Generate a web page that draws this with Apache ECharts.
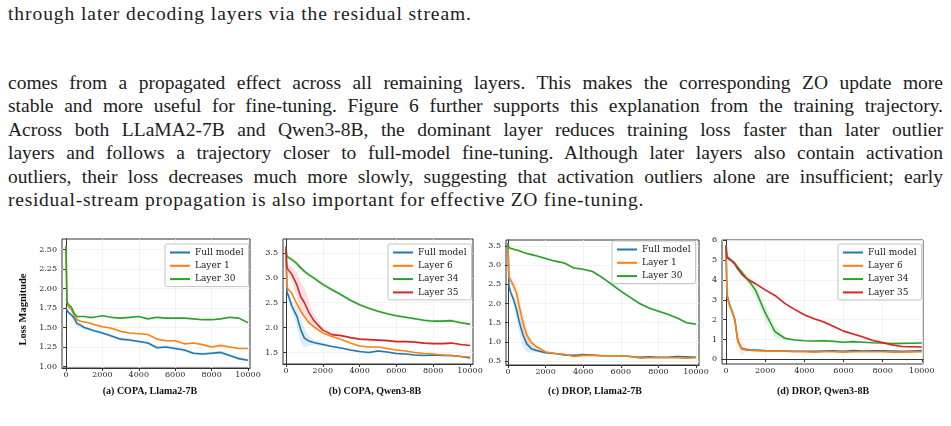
<!DOCTYPE html>
<html>
<head>
<meta charset="utf-8">
<script src="https://cdn.jsdelivr.net/npm/echarts@6/dist/echarts.min.js"></script>
<style>
  html, body { margin: 0; padding: 0; background: #fff; }
  body { width: 951px; height: 426px; position: relative; overflow: hidden; }
  .txt {
    position: absolute;
    left: 8px;
    width: 935px;
    font-family: "Liberation Serif", serif;
    font-size: 19.5px;
    line-height: 23.4px;
    color: #1c1c1c;
    white-space: nowrap;
  }
  .full { text-align: justify; text-align-last: justify; white-space: normal; }
  #chart { position: absolute; left: 0; top: 0; width: 951px; height: 426px; }
</style>
</head>
<body>
<div class="txt" style="top:2px; letter-spacing:0.93px">through later decoding layers via the residual stream.</div>
<div class="txt full" style="top:71px">comes from a propagated effect across all remaining layers. This makes the corresponding ZO update more</div>
<div class="txt full" style="top:94.4px">stable and more useful for fine-tuning. Figure 6 further supports this explanation from the training trajectory.</div>
<div class="txt full" style="top:117.8px">Across both LLaMA2-7B and Qwen3-8B, the dominant layer reduces training loss faster than later outlier</div>
<div class="txt full" style="top:141.2px">layers and follows a trajectory closer to full-model fine-tuning. Although later layers also contain activation</div>
<div class="txt full" style="top:164.6px">outliers, their loss decreases much more slowly, suggesting that activation outliers alone are insufficient; early</div>
<div class="txt" style="top:188px; letter-spacing:0.74px">residual-stream propagation is also important for effective ZO fine-tuning.</div>
<div id="chart"></div>
<script>
// training steps shared by every panel
const steps = [0, 50, 150, 300, 450, 600, 800, 1000, 1250, 1500, 2000, 2500, 3000, 3500, 4000, 4500, 5000, 5500, 6000, 6500, 7000, 7500, 8000, 8500, 9000, 9500, 10000];
const xTicks = [0, 2000, 4000, 6000, 8000, 10000];

// (a) COPA, Llama2-7B
const copaLlamaFull = [1.76, 1.72, 1.69, 1.66, 1.62, 1.55, 1.53, 1.50, 1.48, 1.46, 1.43, 1.39, 1.35, 1.34, 1.32, 1.30, 1.24, 1.25, 1.23, 1.21, 1.17, 1.16, 1.17, 1.18, 1.14, 1.10, 1.08];
const copaLlamaL1 = [2.54, 1.82, 1.76, 1.73, 1.66, 1.60, 1.58, 1.57, 1.56, 1.54, 1.51, 1.49, 1.45, 1.43, 1.42, 1.41, 1.35, 1.33, 1.33, 1.29, 1.30, 1.28, 1.25, 1.27, 1.25, 1.23, 1.23];
const copaLlamaL30 = [2.55, 1.83, 1.79, 1.76, 1.68, 1.64, 1.64, 1.64, 1.63, 1.63, 1.65, 1.63, 1.62, 1.63, 1.64, 1.61, 1.63, 1.62, 1.62, 1.62, 1.61, 1.60, 1.60, 1.61, 1.63, 1.62, 1.56];
const copaLlamaTicks = [1.0, 1.25, 1.5, 1.75, 2.0, 2.25, 2.5];
// half-width of the shaded spread around a curve
const copaLlamaFullSpread = [0, 0.02, 0.02, 0.03, 0.04, 0.04, 0.03, 0.02, 0.02, 0.02, 0.02, 0.02, 0.02, 0.02, 0.02, 0.02, 0.02, 0.02, 0.02, 0.02, 0.02, 0.02, 0.02, 0.02, 0.02, 0.02, 0.02];

// (b) COPA, Qwen3-8B
const copaQwenFull = [3.63, 2.72, 2.62, 2.45, 2.33, 2.22, 1.96, 1.79, 1.73, 1.70, 1.66, 1.62, 1.59, 1.55, 1.52, 1.50, 1.53, 1.51, 1.48, 1.47, 1.45, 1.44, 1.45, 1.44, 1.44, 1.42, 1.39];
const copaQwenL6 = [3.60, 2.80, 2.76, 2.70, 2.58, 2.47, 2.33, 2.22, 2.10, 2.02, 1.89, 1.82, 1.76, 1.69, 1.63, 1.61, 1.61, 1.58, 1.55, 1.53, 1.50, 1.48, 1.47, 1.45, 1.44, 1.42, 1.41];
const copaQwenL34 = [3.62, 3.43, 3.40, 3.37, 3.33, 3.28, 3.20, 3.13, 3.06, 3.00, 2.87, 2.76, 2.66, 2.55, 2.46, 2.39, 2.33, 2.28, 2.24, 2.21, 2.18, 2.15, 2.13, 2.13, 2.14, 2.10, 2.07];
const copaQwenL35 = [3.62, 3.20, 3.15, 3.08, 2.97, 2.85, 2.62, 2.50, 2.30, 2.15, 1.95, 1.86, 1.84, 1.80, 1.77, 1.76, 1.75, 1.74, 1.72, 1.72, 1.71, 1.69, 1.68, 1.68, 1.69, 1.66, 1.64];
const copaQwenTicks = [1.5, 2.0, 2.5, 3.0, 3.5];
const copaQwenFullSpread = [0, 0.05, 0.08, 0.1, 0.15, 0.2, 0.25, 0.2, 0.09, 0.05, 0.03, 0.02, 0.02, 0.02, 0.02, 0.02, 0.02, 0.02, 0.02, 0.02, 0.02, 0.02, 0.02, 0.02, 0.02, 0.02, 0.02];
const copaQwenL34Spread = [0, 0.03, 0.04, 0.05, 0.05, 0.05, 0.05, 0.05, 0.05, 0.05, 0.05, 0.04, 0.03, 0.03, 0.03, 0.03, 0.03, 0.03, 0.03, 0.03, 0.03, 0.03, 0.03, 0.03, 0.03, 0.03, 0.03];
const copaQwenL35Spread = [0, 0.08, 0.1, 0.15, 0.2, 0.25, 0.3, 0.3, 0.22, 0.13, 0.06, 0.03, 0.02, 0.02, 0.02, 0.02, 0.02, 0.02, 0.02, 0.02, 0.02, 0.02, 0.02, 0.02, 0.02, 0.02, 0.02];

// (c) DROP, Llama2-7B
const dropLlamaFull = [3.58, 2.45, 2.28, 2.10, 1.85, 1.52, 1.18, 0.95, 0.82, 0.78, 0.72, 0.70, 0.66, 0.65, 0.67, 0.66, 0.64, 0.64, 0.64, 0.62, 0.60, 0.61, 0.60, 0.60, 0.62, 0.61, 0.60];
const dropLlamaL1 = [3.50, 2.68, 2.60, 2.45, 2.28, 1.92, 1.50, 1.18, 0.98, 0.88, 0.74, 0.70, 0.68, 0.62, 0.65, 0.65, 0.64, 0.64, 0.64, 0.62, 0.58, 0.59, 0.59, 0.59, 0.59, 0.58, 0.59];
const dropLlamaL30 = [3.55, 3.45, 3.43, 3.41, 3.39, 3.37, 3.33, 3.30, 3.27, 3.24, 3.17, 3.10, 3.05, 2.92, 2.89, 2.83, 2.68, 2.50, 2.32, 2.16, 2.00, 1.88, 1.80, 1.72, 1.62, 1.50, 1.46];
const dropLlamaTicks = [0.5, 1.0, 1.5, 2.0, 2.5, 3.0, 3.5];
const dropLlamaFullSpread = [0, 0.05, 0.08, 0.12, 0.2, 0.28, 0.3, 0.22, 0.1, 0.05, 0.03, 0.02, 0.02, 0.02, 0.02, 0.02, 0.02, 0.02, 0.02, 0.02, 0.02, 0.02, 0.02, 0.02, 0.02, 0.02, 0.02];
const dropLlamaL1Spread = [0, 0.08, 0.12, 0.15, 0.2, 0.25, 0.25, 0.2, 0.1, 0.05, 0.03, 0.02, 0.02, 0.02, 0.02, 0.02, 0.02, 0.02, 0.02, 0.02, 0.02, 0.02, 0.02, 0.02, 0.02, 0.02, 0.02];
const dropLlamaL30Spread = [0, 0.03, 0.03, 0.03, 0.03, 0.03, 0.03, 0.03, 0.03, 0.03, 0.03, 0.03, 0.03, 0.03, 0.03, 0.03, 0.04, 0.05, 0.05, 0.04, 0.04, 0.03, 0.03, 0.03, 0.03, 0.03, 0.03];

// (d) DROP, Qwen3-8B
const dropQwenFull = [5.70, 3.30, 2.85, 2.45, 2.00, 0.95, 0.55, 0.50, 0.47, 0.46, 0.44, 0.43, 0.42, 0.40, 0.40, 0.40, 0.42, 0.43, 0.40, 0.44, 0.42, 0.43, 0.43, 0.42, 0.40, 0.42, 0.44];
const dropQwenL6 = [5.70, 3.20, 2.80, 2.42, 2.00, 0.92, 0.52, 0.47, 0.44, 0.43, 0.41, 0.41, 0.40, 0.38, 0.38, 0.36, 0.38, 0.38, 0.36, 0.38, 0.38, 0.38, 0.38, 0.36, 0.36, 0.37, 0.38];
const dropQwenL34 = [5.75, 5.20, 5.12, 4.98, 4.85, 4.65, 4.40, 4.15, 3.85, 3.50, 2.35, 1.40, 1.06, 0.97, 0.93, 0.92, 0.93, 0.90, 0.86, 0.89, 0.86, 0.83, 0.82, 0.79, 0.80, 0.81, 0.82];
const dropQwenL35 = [5.75, 5.12, 5.05, 4.95, 4.80, 4.55, 4.30, 4.12, 3.95, 3.82, 3.50, 3.22, 2.82, 2.52, 2.25, 2.05, 1.88, 1.65, 1.42, 1.27, 1.12, 0.95, 0.84, 0.72, 0.64, 0.63, 0.62];
const dropQwenTicks = [0, 1, 2, 3, 4, 5, 6];
const dropQwenFullSpread = [0, 0.1, 0.15, 0.2, 0.3, 0.45, 0.4, 0.12, 0.06, 0.04, 0.04, 0.04, 0.04, 0.04, 0.04, 0.04, 0.04, 0.04, 0.04, 0.04, 0.04, 0.04, 0.04, 0.04, 0.04, 0.04, 0.04];
const dropQwenL34Spread = [0, 0.05, 0.06, 0.08, 0.1, 0.12, 0.15, 0.2, 0.28, 0.35, 0.4, 0.3, 0.1, 0.05, 0.04, 0.04, 0.04, 0.04, 0.04, 0.04, 0.04, 0.04, 0.04, 0.04, 0.04, 0.04, 0.04];
const dropQwenL35Spread = [0, 0.06, 0.06, 0.06, 0.06, 0.06, 0.06, 0.06, 0.06, 0.06, 0.06, 0.06, 0.06, 0.06, 0.06, 0.06, 0.06, 0.06, 0.06, 0.06, 0.06, 0.06, 0.06, 0.06, 0.06, 0.06, 0.06];

const BLUE = "#1f77b4", ORANGE = "#ff7f0e", GREEN = "#2ca02c", RED = "#d62728";
const TICK_FONT = "DejaVu Serif";

const panels = [
  {
    caption: "(a) COPA, Llama2-7B", captionX: 150,
    grid: { left: 62, top: 239, width: 188, height: 129 },
    xMin: -220, xMax: 10110, yMin: 0.98, yMax: 2.635, yTicks: copaLlamaTicks, digits: 2,
    legendAt: { left: 165, top: 244 },
    lines: [["Full model", copaLlamaFull, BLUE], ["Layer 1", copaLlamaL1, ORANGE], ["Layer 30", copaLlamaL30, GREEN]],
    bands: [[copaLlamaFull, copaLlamaFullSpread, BLUE]],
    yName: "Loss Magnitude",
  },
  {
    caption: "(b) COPA, Qwen3-8B", captionX: 375,
    grid: { left: 283, top: 239, width: 190, height: 125 },
    xMin: -163, xMax: 10163, yMin: 1.27, yMax: 3.78, yTicks: copaQwenTicks, digits: 1,
    legendAt: { left: 388, top: 244 },
    lines: [["Full model", copaQwenFull, BLUE], ["Layer 6", copaQwenL6, ORANGE], ["Layer 34", copaQwenL34, GREEN], ["Layer 35", copaQwenL35, RED]],
    bands: [[copaQwenFull, copaQwenFullSpread, BLUE], [copaQwenL34, copaQwenL34Spread, GREEN], [copaQwenL35, copaQwenL35Spread, RED]],
  },
  {
    caption: "(c) DROP, Llama2-7B", captionX: 595,
    grid: { left: 506, top: 240, width: 193, height: 125 },
    xMin: -106, xMax: 10160, yMin: 0.40, yMax: 3.65, yTicks: dropLlamaTicks, digits: 1,
    legendAt: { left: 612, top: 241 },
    lines: [["Full model", dropLlamaFull, BLUE], ["Layer 1", dropLlamaL1, ORANGE], ["Layer 30", dropLlamaL30, GREEN]],
    bands: [[dropLlamaFull, dropLlamaFullSpread, BLUE], [dropLlamaL1, dropLlamaL1Spread, ORANGE], [dropLlamaL30, dropLlamaL30Spread, GREEN]],
  },
  {
    caption: "(d) DROP, Qwen3-8B", captionX: 823,
    grid: { left: 722, top: 240, width: 201, height: 124 },
    xMin: -204, xMax: 10060, yMin: -0.24, yMax: 6.02, yTicks: dropQwenTicks, digits: 0,
    legendAt: { left: 838, top: 244 },
    lines: [["Full model", dropQwenFull, BLUE], ["Layer 6", dropQwenL6, ORANGE], ["Layer 34", dropQwenL34, GREEN], ["Layer 35", dropQwenL35, RED]],
    bands: [[dropQwenFull, dropQwenFullSpread, ORANGE], [dropQwenL34, dropQwenL34Spread, GREEN], [dropQwenL35, dropQwenL35Spread, RED]],
  },
];

const option = { animation: false, grid: [], xAxis: [], yAxis: [], legend: [], title: [], series: [] };

panels.forEach((p, i) => {
  option.grid.push(Object.assign({ show: true, borderColor: "#333", borderWidth: 1, containLabel: false }, p.grid));

  option.xAxis.push({
    type: "value", gridIndex: i, min: p.xMin, max: p.xMax,
    axisLine: { show: true, lineStyle: { color: "#333", width: 1 } },
    axisTick: { show: true, length: 3, lineStyle: { color: "#333" }, customValues: xTicks },
    axisLabel: {
      customValues: xTicks, margin: 3, fontFamily: TICK_FONT, fontSize: 8, color: "#262626",
      formatter: (v) => String(Math.round(v)),
    },
    splitLine: { show: true, lineStyle: { color: "#f0f0f0", width: 0.8 } },
  });

  option.yAxis.push({
    type: "value", gridIndex: i, min: p.yMin, max: p.yMax,
    name: p.yName || "", nameLocation: "middle", nameGap: 33, nameRotate: 90,
    nameTextStyle: { fontFamily: "Liberation Serif", fontWeight: "bold", fontSize: 10.5, color: "#111", padding: [0, 12, 0, 0] },
    axisLine: { show: true, lineStyle: { color: "#333", width: 1 } },
    axisTick: { show: true, length: 3, lineStyle: { color: "#333" }, customValues: p.yTicks },
    axisLabel: {
      customValues: p.yTicks, margin: 5, fontFamily: TICK_FONT, fontSize: 8, color: "#262626",
      formatter: (v) => Number(v).toFixed(p.digits),
    },
    splitLine: { show: true, lineStyle: { color: "#f0f0f0", width: 0.8 } },
  });

  option.legend.push(Object.assign({
    orient: "vertical",
    data: p.lines.map((l) => l[0]),
    icon: "rect",
    itemWidth: 20, itemHeight: 2, itemGap: 4.3,
    padding: [4, 5, 3, 5],
    borderColor: "#c4c4c4", borderWidth: 1, borderRadius: 2,
    backgroundColor: "rgba(255,255,255,0.85)",
    textStyle: { fontFamily: TICK_FONT, fontSize: 9, lineHeight: 9, color: "#222" },
  }, p.legendAt));

  option.title.push({
    text: p.caption, left: p.captionX, top: 386, textAlign: "center", padding: 0,
    textStyle: { fontFamily: "Liberation Serif", fontWeight: "bold", fontSize: 10, color: "#111" },
  });

  // shaded spread around each curve, drawn as one polygon through the axis scales
  p.bands.forEach(([vals, spread, color]) => {
    option.series.push({
      name: "spread", type: "custom", xAxisIndex: i, yAxisIndex: i,
      silent: true, clip: true, z: 1,
      data: [[steps[0], vals[0]]],
      renderItem: (params, api) => {
        const upper = steps.map((s, k) => api.coord([s, vals[k] + spread[k]]));
        const lower = steps.map((s, k) => api.coord([s, vals[k] - spread[k]])).reverse();
        return {
          type: "polygon",
          shape: { points: upper.concat(lower) },
          style: { fill: color, opacity: 0.14 },
        };
      },
    });
  });

  p.lines.forEach(([name, vals, color]) => {
    option.series.push({
      name, type: "line", xAxisIndex: i, yAxisIndex: i,
      data: steps.map((s, k) => [s, vals[k]]),
      symbol: "none", showSymbol: false, z: 3,
      lineStyle: { color, width: 1.6 },
      itemStyle: { color },
    });
  });
});

const chart = echarts.init(document.getElementById("chart"), null, { renderer: "canvas" });
chart.setOption(option);
</script>
</body>
</html>
